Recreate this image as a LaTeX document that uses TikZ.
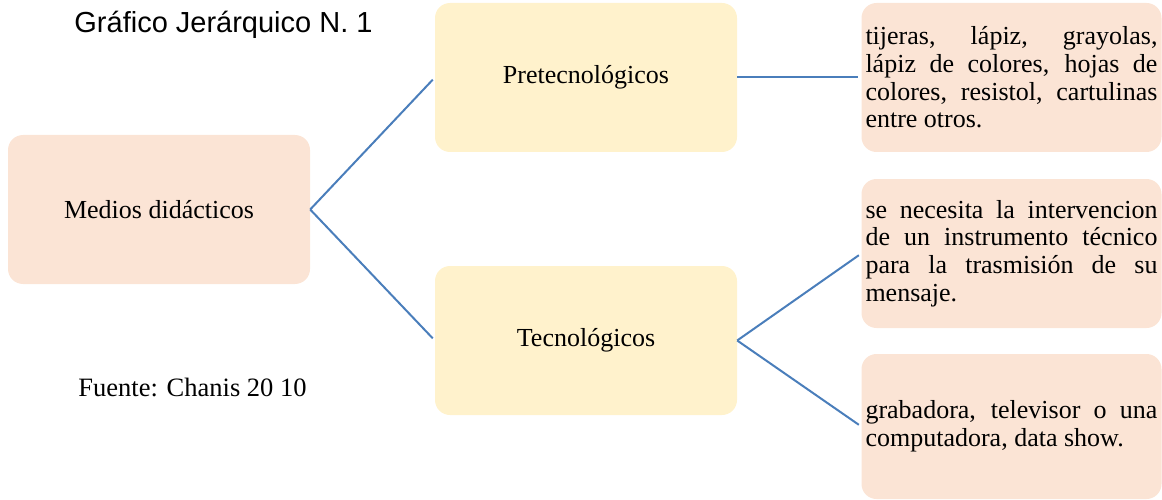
\documentclass[tikz,border=0pt]{standalone}
\usepackage{fontspec}
\setmainfont{Liberation Serif}
\newfontfamily\titlefont{Liberation Sans}
\definecolor{boxpink}{RGB}{251,228,213}
\definecolor{boxyellow}{RGB}{255,242,204}
\definecolor{linkblue}{RGB}{74,126,187}
\newcommand{\nohyph}{\hyphenpenalty=10000\relax\exhyphenpenalty=10000\relax}
\begin{document}
\begin{tikzpicture}[x=1pt,y=-1pt,
  basebox/.style={rectangle,rounded corners=15pt,draw=none,inner sep=0pt,
    font=\fontsize{26}{27.6}\selectfont},
  pinkbox/.style={basebox,fill=boxpink},
  yellowbox/.style={basebox,fill=boxyellow},
  textbox/.style={pinkbox,text width=292pt,inner xsep=4pt,align=justify},
  link/.style={draw=linkblue,line width=2pt,shorten >=3pt}]
\useasboundingbox (0,0) rectangle (1162,500);
\node[font=\titlefont\fontsize{29}{32}\selectfont, anchor=base] (title) at (223.5,33) {Gráfico Jerárquico N. 1};
\node[pinkbox, minimum width=302pt, minimum height=149pt] (med) at (159,209.5) {Medios didácticos};
\node[yellowbox, minimum width=302pt, minimum height=149pt] (pre) at (586,77.5) {Pretecnológicos};
\node[yellowbox, minimum width=302pt, minimum height=149pt] (tec) at (586,340.5) {Tecnológicos};
\node[textbox, minimum height=149pt] (r1) at (1011.5,77.5) {\nohyph tijeras, lápiz, grayolas,\linebreak lápiz de colores, hojas de\linebreak colores, resistol, cartulinas\linebreak entre otros.};
\node[textbox, minimum height=149pt] (r2) at (1011.5,253.5) {\nohyph se necesita la intervencion\linebreak de un instrumento técnico\linebreak para la trasmisión de su\linebreak mensaje.};
\node[textbox, minimum height=145pt] (r3) at (1011.5,426.5) {\nohyph grabadora, televisor o una\linebreak computadora, data show.};
\node[font=\fontsize{26.5}{28}\selectfont, anchor=base] (src) at (192.5,396.5) {Fuente: Chanis 20 10};
\draw[link] (med.east) -- (pre.west);
\draw[link] (med.east) -- (tec.west);
\draw[link] (pre.east) -- (r1.west);
\draw[link] (tec.east) -- (r2.west);
\draw[link] (tec.east) -- (r3.west);
\end{tikzpicture}
\end{document}
